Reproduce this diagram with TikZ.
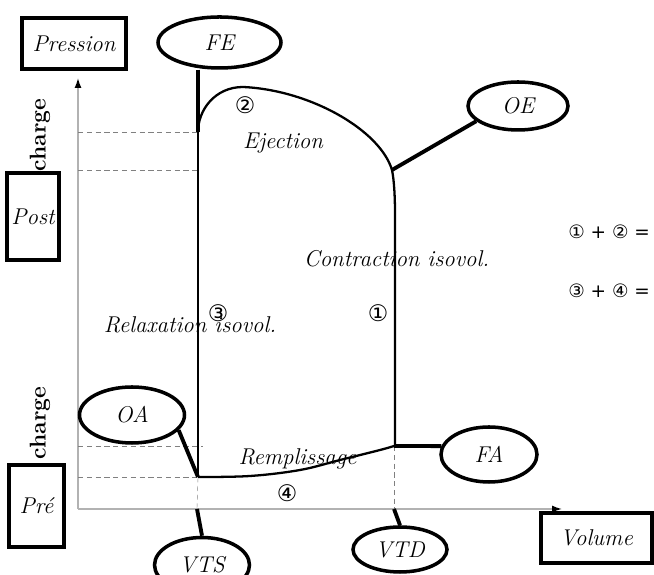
\documentclass[tikz,border=0pt]{standalone}
\usepackage{fontspec}
\usepackage{tikz}
\usetikzlibrary{positioning,shapes.geometric,arrows.meta}
\newfontfamily\circfont{DejaVu Sans}

\begin{document}
\begin{tikzpicture}[every node/.style={font=\fontsize{13}{15}\selectfont\itshape},
    valve/.style={ellipse,draw,line width=2pt,inner sep=0pt},
    labelbox/.style={rectangle,draw,line width=2.2pt,inner sep=0pt},
    chargetext/.style={rotate=90,font=\fontsize{13}{15}\selectfont\bfseries},
    circ/.style={font=\fontsize{13}{15}\selectfont\circfont},
    sumtext/.style={anchor=west,inner sep=0pt,font=\fontsize{10.5}{12}\selectfont\circfont},
    valveline/.style={line width=2.2pt},
    cycleline/.style={line width=1.3pt},
    guide/.style={gray,densely dashed,very thin},
    axis/.style={gray!60,line width=0.8pt,-{Latex[black,length=2mm,width=1.4mm]}}]
    \useasboundingbox (0,0) rectangle (13.08,11.5);
    \coordinate (O) at (1.56,1.32);
    \coordinate (Ytop) at (1.56,9.94);
    \coordinate (Xend) at (11.24,1.32);
    \coordinate (A) at (3.96,8.86);
    \coordinate (B) at (7.84,8.1);
    \coordinate (C) at (7.88,2.58);
    \coordinate (D) at (3.96,1.96);
    \coordinate (vts) at (3.94,1.32);
    \coordinate (vtd) at (7.88,1.32);
    \draw[axis] (O) -- (Ytop);
    \draw[axis] (O) -- (Xend);
    \draw[guide] (O |- A) -- (A);
    \draw[guide] (O |- B) -- (A |- B);
    \draw[guide] (O |- C) -- (4.06,2.58);
    \draw[guide] (O |- D) -- (D);
    \draw[guide] (D) -- (vts);
    \draw[guide] (C) -- (vtd);
    \draw[cycleline] (D) -- (A);
    \draw[cycleline] (A) .. controls (3.96,9.3) and (4.3,9.76) .. (4.86,9.76)
      .. controls (6.2,9.7) and (7.6,8.9) .. (B)
      .. controls (7.88,7.9) and (7.9,7.6) .. (7.9,7.2) -- (7.9,2.58) -- (C);
    \draw[cycleline] plot[smooth,tension=0.6] coordinates {(3.96,1.96) (5.0,1.98) (6.0,2.1) (6.8,2.3) (7.6,2.5) (7.88,2.58)};
    \node[labelbox,minimum width=2.08cm,minimum height=1.02cm] (pression) at (1.48,10.63) {Pression};
    \node[labelbox,minimum width=2.22cm,minimum height=1.0cm] (volume) at (11.93,0.74) {Volume};
    \node[labelbox,minimum width=1.04cm,minimum height=1.74cm] (post) at (0.66,7.17) {Post};
    \node[labelbox,minimum width=1.1cm,minimum height=1.64cm] (pre) at (0.73,1.38) {Pré};
    \node[chargetext] (chargepost) at (0.8,8.8) {charge};
    \node[chargetext] (chargepre) at (0.8,3.04) {charge};
    \node[valve,minimum width=2.46cm,minimum height=1.02cm] (FE) at (4.39,10.65) {FE};
    \node[valve,minimum width=2.0cm,minimum height=0.96cm] (OE) at (10.36,9.38) {OE};
    \node[valve,minimum width=2.1cm,minimum height=1.12cm] (OA) at (2.64,3.2) {OA};
    \node[valve,minimum width=1.92cm,minimum height=1.1cm] (FA) at (9.78,2.41) {FA};
    \node[valve,minimum width=1.9cm,minimum height=1.1cm] (VTS) at (4.04,0.2) {VTS};
    \node[valve,minimum width=1.88cm,minimum height=0.9cm] (VTD) at (8.0,0.51) {VTD};
    \draw[valveline] (FE.south -| A) -- (A);
    \draw[valveline] (B) -- (OE.200);
    \draw[valveline] (OA.-18) -- (D);
    \draw[valveline] (C) -- (FA.170);
    \draw[valveline] (vts) -- (VTS.north);
    \draw[valveline] (vtd) -- (VTD.north);
    \node (ejection) at (5.66,8.64) {Ejection};
    \node[circ] (n2) at (4.9,9.4) {②};
    \node (contraction) at (7.93,6.32) {Contraction isovol.};
    \node[circ] (n1) at (7.56,5.24) {①};
    \node[circ] (n3) at (4.36,5.24) {③};
    \node (relaxation) at (3.8,5.0) {Relaxation isovol.};
    \node (remplissage) at (5.95,2.32) {Remplissage};
    \node[circ] (n4) at (5.74,1.64) {④};
    \node[sumtext] (sum1) at (11.36,6.86) {① + ② =};
    \node[sumtext] (sum2) at (11.36,5.68) {③ + ④ =};
\end{tikzpicture}
\end{document}
